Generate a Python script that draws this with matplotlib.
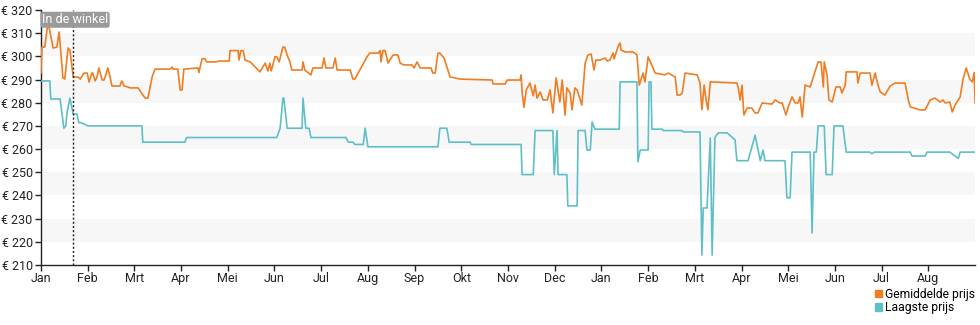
import matplotlib
matplotlib.use("Agg")
import matplotlib.pyplot as plt
from matplotlib.patches import Patch

plt.rcParams['font.family'] = ['Roboto', 'DejaVu Sans']

months = ["Jan", "Feb", "Mrt", "Apr", "Mei", "Jun", "Jul", "Aug", "Sep", "Okt",
          "Nov", "Dec", "Jan", "Feb", "Mrt", "Apr", "Mei", "Jun", "Jul", "Aug"]
price_ticks = [210, 220, 230, 240, 250, 260, 270, 280, 290, 300, 310, 320]
shop_date = 0.69  # month position of "In de winkel"

# average price: (month position, euro)
avg_t = [0, 0.02, 0.08, 0.15, 0.19, 0.26, 0.34, 0.39, 0.47, 0.51, 0.58, 0.62, 0.69, 0.79, 0.84,
         0.92, 0.99, 1.03, 1.09, 1.11, 1.16, 1.20, 1.24, 1.31, 1.35, 1.39, 1.43, 1.48, 1.52, 1.69,
         1.73, 1.78, 1.86, 1.91, 2.08, 2.16, 2.23, 2.29, 2.38, 2.44, 2.76, 2.81, 2.83, 2.93, 2.98,
         3.02, 3.06, 3.36, 3.38, 3.45, 3.51, 3.55, 3.73, 3.83, 4.03, 4.05, 4.22, 4.24, 4.28, 4.33,
         4.37, 4.48, 4.69, 4.80, 4.86, 4.90, 4.93, 5.01, 5.05, 5.10, 5.18, 5.22, 5.27, 5.33, 5.37,
         5.59, 5.61, 5.65, 5.78, 5.82, 6.02, 6.06, 6.10, 6.25, 6.30, 6.34, 6.62, 6.68, 6.72, 6.92,
         6.98, 7.04, 7.22, 7.26, 7.28, 7.32, 7.37, 7.43, 7.54, 7.64, 7.69, 7.77, 7.94, 7.99, 8.05,
         8.12, 8.35, 8.39, 8.44, 8.50, 8.54, 8.63, 8.76, 8.86, 8.97, 9.66, 9.68, 9.94, 9.98, 10.26,
         10.28, 10.30, 10.34, 10.39, 10.47, 10.54, 10.58, 10.62, 10.69, 10.75, 10.84, 10.90, 10.96,
         11.03, 11.11, 11.16, 11.22, 11.26, 11.33, 11.37, 11.43, 11.48, 11.58, 11.65, 11.71, 11.78,
         11.84, 11.88, 11.97, 12.08, 12.12, 12.18, 12.25, 12.27, 12.36, 12.40, 12.42, 12.51, 12.68,
         12.76, 12.81, 12.89, 12.93, 13.00, 13.06, 13.15, 13.36, 13.43, 13.58, 13.62, 13.68, 13.73,
         13.79, 14.05, 14.11, 14.15, 14.20, 14.24, 14.28, 14.33, 14.90, 14.93, 14.97, 15.01, 15.05,
         15.12, 15.22, 15.29, 15.35, 15.44, 15.65, 15.72, 15.82, 15.87, 15.95, 16.00, 16.08, 16.15,
         16.21, 16.25, 16.30, 16.36, 16.47, 16.55, 16.64, 16.70, 16.75, 16.77, 16.83, 16.87, 16.94,
         17.02, 17.11, 17.15, 17.22, 17.24, 17.47, 17.49, 17.54, 17.75, 17.79, 17.86, 17.92, 17.97,
         18.07, 18.18, 18.29, 18.50, 18.57, 18.61, 18.82, 18.93, 19.04, 19.14, 19.25, 19.31, 19.36,
         19.46, 19.51, 19.57, 19.64, 19.68, 19.74, 19.81, 19.89, 19.94, 19.98, 20.0]
avg_price = [292.8, 304.0, 304.0, 314.4, 311.0, 303.6, 304.0, 310.5, 290.7, 290.2, 303.6, 302.7,
             291.1, 291.1, 290.2, 292.8, 292.8, 288.9, 292.8, 292.8, 289.4, 291.1, 295.0, 289.8,
             289.8, 292.0, 295.0, 291.1, 287.2, 287.2, 289.4, 287.2, 286.8, 286.4, 286.4, 284.0,
             282.0, 282.0, 291.1, 294.5, 294.5, 295.4, 294.5, 294.5, 285.5, 285.5, 294.5, 295.0,
             293.0, 299.0, 299.0, 297.6, 297.6, 298.0, 298.0, 302.5, 302.5, 298.4, 302.5, 302.5,
             298.4, 297.6, 293.3, 297.1, 293.7, 297.1, 293.7, 299.8, 299.8, 297.6, 304.0, 304.0,
             300.6, 297.6, 294.1, 294.1, 297.6, 294.1, 292.0, 295.0, 295.0, 299.3, 295.0, 295.0,
             299.3, 294.1, 294.1, 290.2, 290.2, 297.6, 299.8, 301.4, 301.4, 302.5, 297.6, 302.5,
             302.5, 297.1, 300.6, 300.6, 297.1, 296.3, 296.3, 295.0, 297.6, 295.0, 295.0, 292.8,
             292.8, 301.4, 301.4, 299.3, 291.1, 290.7, 290.2, 289.8, 288.1, 288.1, 289.8, 289.8,
             292.0, 285.0, 278.0, 285.5, 288.5, 283.0, 287.6, 282.0, 284.6, 281.2, 281.2, 285.5,
             275.6, 290.7, 280.3, 289.8, 274.7, 286.4, 284.2, 276.9, 286.4, 285.5, 279.0, 297.0,
             300.6, 301.0, 294.1, 298.4, 298.4, 299.3, 298.0, 298.4, 301.4, 298.9, 304.5, 305.8,
             302.7, 301.9, 301.9, 300.6, 287.6, 292.8, 289.0, 299.8, 297.0, 292.8, 292.0, 292.8,
             291.1, 283.3, 283.3, 284.2, 292.8, 292.0, 288.5, 277.0, 287.6, 281.2, 277.0, 289.0,
             288.5, 286.4, 281.2, 287.6, 274.7, 277.7, 277.7, 275.6, 275.6, 279.9, 279.4, 281.2,
             279.9, 279.9, 274.7, 278.2, 282.5, 279.9, 279.9, 282.5, 273.8, 287.6, 286.8, 292.0,
             297.6, 297.6, 286.8, 297.6, 292.0, 281.2, 280.3, 286.8, 286.8, 284.2, 287.6, 293.3,
             293.3, 288.5, 292.8, 292.8, 287.6, 292.8, 287.6, 284.6, 283.3, 287.2, 288.5, 288.5,
             281.2, 278.2, 276.9, 276.9, 281.2, 282.0, 280.3, 281.2, 279.9, 280.3, 276.0, 279.0,
             281.2, 282.5, 290.0, 295.0, 290.0, 289.0, 293.0, 280.0]

# lowest price: (month position, euro)
low_t = [0, 0.19, 0.21, 0.41, 0.49, 0.53, 0.56, 0.62, 0.69, 0.77, 0.81, 0.86, 1.01, 2.16, 2.18,
         3.08, 3.12, 5.05, 5.12, 5.18, 5.20, 5.27, 5.59, 5.61, 5.67, 5.74, 5.78, 6.53, 6.58, 6.68,
         6.72, 6.90, 6.94, 7.00, 8.50, 8.54, 8.69, 8.74, 9.19, 9.21, 10.28, 10.30, 10.54, 10.58,
         10.96, 10.99, 11.05, 11.07, 11.26, 11.28, 11.48, 11.50, 11.65, 11.69, 11.76, 11.80, 11.86,
         12.38, 12.40, 12.76, 12.78, 12.83, 13.00, 13.02, 13.06, 13.08, 13.30, 13.32, 13.73, 13.75,
         14.11, 14.15, 14.18, 14.26, 14.33, 14.37, 14.43, 14.50, 14.69, 14.86, 14.90, 15.14, 15.29,
         15.40, 15.46, 15.50, 15.93, 15.97, 16.04, 16.08, 16.47, 16.51, 16.55, 16.60, 16.64, 16.77,
         16.81, 16.94, 16.98, 17.17, 17.24, 17.75, 17.79, 17.84, 18.61, 18.65, 18.93, 18.97, 19.46,
         19.64, 19.68, 20.0]
low_price = [289.4, 289.4, 281.6, 281.6, 269.0, 270.0, 276.0, 282.0, 275.1, 275.1, 271.4, 271.4,
             270.0, 270.0, 263.0, 263.0, 265.0, 265.0, 269.0, 282.0, 282.0, 269.0, 269.0, 282.0,
             269.0, 269.0, 265.0, 265.0, 263.0, 263.0, 262.0, 262.0, 269.0, 261.0, 261.0, 269.0,
             269.0, 263.0, 263.0, 262.0, 262.0, 249.0, 249.0, 268.0, 268.0, 249.0, 268.0, 249.0,
             249.0, 235.5, 235.5, 268.0, 268.0, 259.6, 259.6, 271.7, 268.6, 268.6, 289.0, 289.0,
             254.5, 259.6, 259.6, 289.0, 289.0, 268.6, 268.6, 268.0, 268.0, 267.4, 267.4, 214.3,
             234.6, 234.6, 264.8, 214.3, 265.0, 267.0, 267.0, 264.0, 255.0, 255.0, 266.0, 255.0,
             259.6, 255.0, 255.0, 239.0, 239.0, 258.7, 258.7, 223.8, 258.7, 258.7, 270.0, 270.0,
             249.0, 249.0, 270.0, 270.0, 258.7, 258.7, 258.0, 258.7, 258.7, 257.0, 257.0, 258.7,
             258.7, 256.0, 258.7, 258.7]

fig = plt.figure(figsize=(9.8, 3.25), dpi=100)
ax = fig.add_axes([0.0418, 0.1846, 0.9532, 0.7846])

# light alternating bands
for lo in range(220, 320, 20):
    ax.axhspan(lo, lo + 10, color='#f7f7f7', lw=0, zorder=0)

ax.plot(avg_t, avg_price, color='#ef7d22', lw=1.2, zorder=3)
ax.plot(low_t, low_price, color='#5ebfc7', lw=1.2, zorder=3)

ax.axvline(shop_date, color='#222222', lw=1, ls=(0, (1.5, 1.5)), zorder=4)
ax.text(0.02, 318.6, "In de winkel", fontsize=9, color='white', va='top', ha='left',
        bbox=dict(boxstyle='round,pad=0.12,rounding_size=0.2', fc='#9a9a9a', ec='none'),
        zorder=5)

ax.set_xlim(0, 20)
ax.set_ylim(210, 320)
ax.set_xticks(range(len(months)))
ax.set_xticklabels(months)
ax.set_yticks(price_ticks)
ax.set_yticklabels([f"€ {p}" for p in price_ticks])
ax.tick_params(axis='both', length=4, width=1, colors='#222222', labelsize=9, pad=1)
ax.tick_params(axis='y', pad=2)
for s in ['top', 'right']:
    ax.spines[s].set_visible(False)
for s in ['left', 'bottom']:
    ax.spines[s].set_color('#222222')
    ax.spines[s].set_linewidth(1)

handles = [Patch(color='#ef7d22', label='Gemiddelde prijs'),
           Patch(color='#5ebfc7', label='Laagste prijs')]
fig.legend(handles=handles, loc='upper left', bbox_to_anchor=(0.893, 0.115),
           frameon=False, fontsize=8.7, handlelength=0.55, handleheight=0.55,
           handletextpad=0.3, labelspacing=0.05, borderaxespad=0, borderpad=0)

fig.savefig("out.png", dpi=100)
